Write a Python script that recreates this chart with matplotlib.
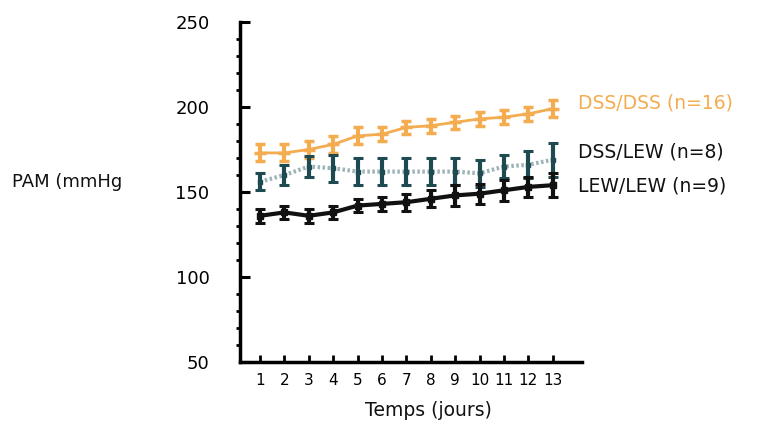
import matplotlib
matplotlib.use("Agg")
import matplotlib.pyplot as plt
from matplotlib.ticker import MultipleLocator

days = list(range(1, 14))
dss_dss = [173, 173, 175, 178, 183, 184, 188, 189, 191, 193, 194, 196, 199]
dss_dss_err = [5, 5, 5, 5, 5, 4, 4, 4, 4, 4, 4, 4, 5]
dss_lew = [156, 160, 165, 164, 162, 162, 162, 162, 162, 161, 165, 166, 169]
dss_lew_err = [5, 6, 6, 8, 8, 8, 8, 8, 8, 8, 7, 8, 10]
lew_lew = [136, 138, 136, 138, 142, 143, 144, 146, 148, 149, 151, 153, 154]
lew_lew_err = [4, 4, 4, 4, 4, 4, 5, 5, 6, 6, 6, 6, 7]

orange = "#F4AC50"
teal = "#1E4A52"
teal_line = "#9DB3B5"

fig = plt.figure(figsize=(7.79, 4.24), dpi=100)
ax = fig.add_axes([240/779, 62/424, (582-240)/779, (362-22)/424])

ax.errorbar(days, dss_dss, yerr=dss_dss_err, color=orange, lw=2, capsize=3.5,
            capthick=2, elinewidth=3, marker="_", ms=9, mew=2.5, zorder=3)
ax.plot(days, dss_lew, color=teal_line, lw=3, ls=(0, (0.6, 0.6)), zorder=2)
ax.errorbar(days, dss_lew, yerr=dss_lew_err, color=teal, lw=0, capsize=3.5,
            capthick=2.2, elinewidth=3, marker="s", ms=3, zorder=4)
ax.errorbar(days, lew_lew, yerr=lew_lew_err, color="#111111", lw=3, capsize=3.5,
            capthick=2.2, elinewidth=3, marker="s", ms=4, zorder=5)

ax.set_xlim(0.18, 14.2)
ax.set_ylim(50, 250)
ax.set_xticks(days)
ax.set_xticklabels([str(d) for d in days], fontsize=11)
ax.yaxis.set_major_locator(MultipleLocator(50))
ax.yaxis.set_minor_locator(MultipleLocator(10))
ax.tick_params(axis="y", which="major", direction="in", length=7, width=2.2, labelsize=13, pad=22)
ax.tick_params(axis="y", which="minor", direction="out", length=3, width=2)
ax.tick_params(axis="x", which="major", direction="in", length=5, width=2, pad=8)
for s in ["top", "right"]:
    ax.spines[s].set_visible(False)
for s in ["left", "bottom"]:
    ax.spines[s].set_linewidth(2.5)

fig.text(578/779, 1 - 103/424, "DSS/DSS (n=16)", color=orange, fontsize=13.5, va="center")
fig.text(578/779, 1 - 152/424, "DSS/LEW (n=8)", color="#111111", fontsize=13.5, va="center")
fig.text(578/779, 1 - 186/424, "LEW/LEW (n=9)", color="#111111", fontsize=13.5, va="center")
fig.text(12/779, 1 - 182/424, "PAM (mmHg", color="#111111", fontsize=13, va="center")
fig.text(428/779, 1 - 410/424, "Temps (jours)", color="#111111", fontsize=13.5, va="center", ha="center")

fig.savefig("out.png", dpi=100)
